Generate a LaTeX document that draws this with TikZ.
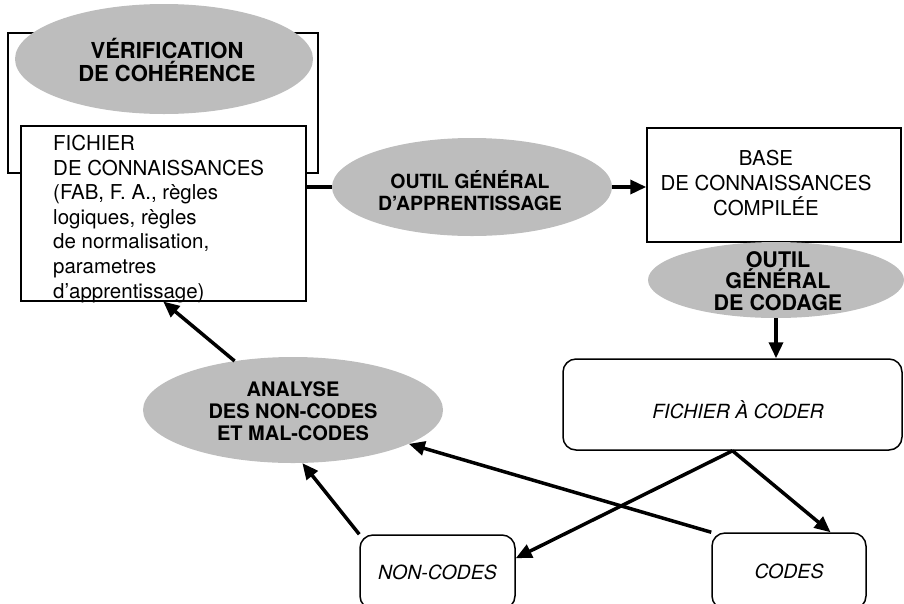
\documentclass[tikz,border=0pt]{standalone}
\usepackage{fontspec}
\setmainfont{TeX Gyre Heros}
\usetikzlibrary{shapes.geometric,arrows.meta,calc}
\definecolor{stipple}{gray}{0.74}
\begin{document}
\begin{tikzpicture}[x=1pt,y=-1pt,
  every node/.style={font=\fontsize{19}{24.5}\selectfont, inner sep=0pt},
  blob/.style={ellipse, fill=stipple, inner sep=0pt},
  blobtext/.style={align=center},
  plainbox/.style={draw, line width=1.5pt, fill=white},
  roundbox/.style={draw, line width=1.5pt, rounded corners=13pt, fill=white,
    font=\fontsize{19.5}{24}\selectfont\itshape},
  flow/.style={line width=3.5pt, -{Triangle[length=16pt,width=14pt]}},
  link/.style={line width=3.5pt}]
\useasboundingbox (0,0) rectangle (904,603);

% frame of the consistency-check loop
\draw[line width=1.2pt] (8,33) rectangle (318,173);

\node[blob, minimum width=298pt, minimum height=110pt] (verif) at (164,59) {};
\node[blobtext, font=\fontsize{22}{23}\selectfont\bfseries] (verif-t) at (167,60)
  {VÉRIFICATION\\DE COHÉRENCE};

\node[plainbox, anchor=north west, minimum width=285pt, minimum height=175pt] (fichier) at (20,125) {};
\node[anchor=north west, align=left, font=\fontsize{20.5}{24.6}\selectfont] (fichier-t) at (53,135)
  {FICHIER\\DE CONNAISSANCES\\(FAB, F. A., règles\\logiques, règles\\de normalisation,\\parametres\\d'apprentissage)};

\node[blob, minimum width=280pt, minimum height=98pt] (outil) at (472,187) {};
\node[blobtext, font=\fontsize{19.5}{22}\selectfont\bfseries] (outil-t) at (470,191)
  {OUTIL GÉNÉRAL\\D'APPRENTISSAGE};

\node[plainbox, minimum width=254pt, minimum height=114pt] (base) at (774,185) {};
\node[blobtext, font=\fontsize{20.5}{25}\selectfont] (base-t) at (766,183)
  {BASE\\DE CONNAISSANCES\\COMPILÉE};

\node[blob, minimum width=256pt, minimum height=76pt] (codage) at (776,280) {};
\node[blobtext, font=\fontsize{21.5}{21.5}\selectfont\bfseries] (codage-t) at (778,281)
  {OUTIL\\GÉNÉRAL\\DE CODAGE};

\node[roundbox, minimum width=339pt, minimum height=91pt] (fac) at (732.5,404.5) {};
\node[font=\fontsize{19.5}{24}\selectfont\itshape] (fac-t) at (738,410) {FICHIER À CODER};

\node[blob, minimum width=300pt, minimum height=106pt] (analyse) at (293,410) {};
\node[blobtext, font=\fontsize{20}{22}\selectfont\bfseries] (analyse-t) at (293,411)
  {ANALYSE\\DES NON-CODES\\ET MAL-CODES};

\node[roundbox, minimum width=155pt, minimum height=74pt] (noncodes) at (437.5,572) {NON-CODES};
\node[roundbox, minimum width=154pt, minimum height=76pt] (codes) at (789,571) {CODES};

% connectors
\draw[link] (fichier.east |- outil.west) -- (outil.west);
\draw[flow] (outil.east) -- (base.west |- outil.east);
\draw[flow] (codage.south) -- (codage.south |- fac.north);
\draw[flow] (fac.south) -- (noncodes.10);
\draw[flow] (fac.south) -- (codes.43);
\draw[flow] (codes.north west) -- (analyse);
\draw[flow] (noncodes.north west) -- (analyse.280);
\draw[flow] (analyse.140) -- (fichier.south);
\end{tikzpicture}
\end{document}
